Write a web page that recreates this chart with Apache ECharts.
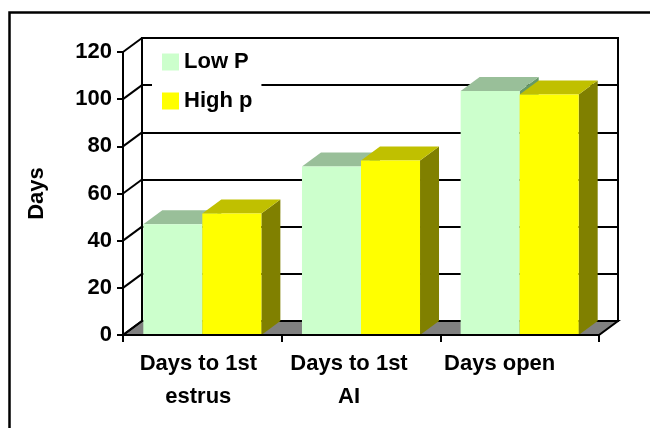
<!DOCTYPE html>
<html>
<head>
<meta charset="utf-8">
<script src="https://cdn.jsdelivr.net/npm/echarts@6/dist/echarts.min.js"></script>
<style>
  html, body { margin: 0; padding: 0; background: #fff; }
  #chart { width: 650px; height: 428px; }
</style>
</head>
<body>
<div id="chart"></div>
<script>
const categories = ['Days to 1st\nestrus', 'Days to 1st\nAI', 'Days open'];
const lowP = [47, 71.5, 103.5];
const highP = [51.5, 74, 102];
const yTicks = [0, 20, 40, 60, 80, 100, 120];

const W = 650, H = 428;
const FONT = "'Liberation Sans', Arial, sans-serif";
// front plane and back wall of the fake 3d box
const FRONT = { left: 123, right: 51, top: 52, bottom: 93 };
const BACK = { left: 142, right: 32, top: 38, bottom: 107 };
const DX = BACK.left - FRONT.left;
const DY = BACK.top - FRONT.top;
const BAR_FRAC = 0.372;

const lowColors = { front: '#ccffcc', top: '#99bf99', side: '#669966' };
const highColors = { front: '#ffff00', top: '#c0c000', side: '#808000' };

function renderBar(idx, c) {
  return function (params, api) {
    const cat = api.value(0);
    const base = api.coord([cat, 0]);
    const top = api.coord([cat, api.value(1)]);
    const band = api.size([1, 0])[0];
    const w = band * BAR_FRAC;
    const x0 = base[0] - w + idx * w;
    const x1 = x0 + w;
    const y0 = base[1];
    const y1 = top[1];
    return {
      type: 'group',
      children: [
        {
          type: 'polygon',
          shape: { points: [[x1, y0], [x1 + DX, y0 + DY], [x1 + DX, y1 + DY], [x1, y1]] },
          style: { fill: c.side }
        },
        {
          type: 'polygon',
          shape: { points: [[x0, y1], [x1, y1], [x1 + DX, y1 + DY], [x0 + DX, y1 + DY]] },
          style: { fill: c.top }
        },
        {
          type: 'rect',
          shape: { x: x0, y: y1, width: w, height: y0 - y1 },
          style: { fill: c.front }
        }
      ]
    };
  };
}

const chart = echarts.init(document.getElementById('chart'));
const labelStyle = { color: '#000', fontFamily: FONT, fontWeight: 'bold', fontSize: 22 };

chart.setOption({
  backgroundColor: '#fff',
  animation: false,
  legend: {
    orient: 'vertical',
    left: 152,
    top: 45,
    padding: [6, 9, 6, 10],
    backgroundColor: '#fff',
    itemWidth: 17,
    itemHeight: 17,
    itemGap: 17,
    icon: 'rect',
    textStyle: Object.assign({ lineHeight: 22 }, labelStyle),
    data: ['Low P', 'High p']
  },
  grid: [
    Object.assign({ show: false }, FRONT),
    Object.assign({ show: true, borderColor: '#000', borderWidth: 2, backgroundColor: '#fff' }, BACK),
    { left: 123, right: 75, top: FRONT.top, bottom: FRONT.bottom }
  ],
  xAxis: [
    {
      gridIndex: 0,
      type: 'category',
      data: categories,
      z: 3,
      axisLine: { lineStyle: { color: '#000', width: 2 } },
      axisTick: { show: true, length: 7, interval: 0, lineStyle: { color: '#000', width: 2 } },
      axisLabel: { show: false }
    },
    { gridIndex: 1, type: 'value', min: 0, max: 1, show: false },
    {
      gridIndex: 2,
      type: 'category',
      data: categories,
      axisLine: { show: false },
      axisTick: { show: false },
      axisLabel: Object.assign({ interval: 0, margin: 12, lineHeight: 33 }, labelStyle)
    }
  ],
  yAxis: [
    {
      gridIndex: 0,
      type: 'value',
      min: 0,
      max: 120,
      interval: 20,
      name: 'Days',
      nameLocation: 'middle',
      nameRotate: 90,
      nameGap: 75,
      nameTextStyle: labelStyle,
      axisLine: { show: true, lineStyle: { color: '#000', width: 2 } },
      axisTick: { show: true, length: 6, lineStyle: { color: '#000', width: 2 } },
      axisLabel: Object.assign({ margin: 11 }, labelStyle),
      splitLine: { show: false }
    },
    {
      gridIndex: 1,
      type: 'value',
      min: 0,
      max: 120,
      interval: 20,
      axisLine: { show: false },
      axisTick: { show: false },
      axisLabel: { show: false },
      splitLine: { show: true, lineStyle: { color: '#000', width: 2 } }
    },
    { gridIndex: 2, type: 'value', min: 0, max: 120, show: false }
  ],
  series: [
    {
      name: 'Low P',
      type: 'custom',
      xAxisIndex: 0,
      yAxisIndex: 0,
      itemStyle: { color: lowColors.front },
      encode: { x: 0, y: 1 },
      renderItem: renderBar(0, lowColors),
      data: lowP.map((v, i) => [i, v])
    },
    {
      name: 'High p',
      type: 'custom',
      xAxisIndex: 0,
      yAxisIndex: 0,
      itemStyle: { color: highColors.front },
      encode: { x: 0, y: 1 },
      renderItem: renderBar(1, highColors),
      data: highP.map((v, i) => [i, v])
    }
  ]
});

// floor, side wall gridlines and outer frame
const fx0 = FRONT.left, fx1 = W - FRONT.right, fy = H - FRONT.bottom;
const elements = [
  {
    type: 'rect',
    z: 0,
    shape: { x: 9.5, y: 12.5, width: 800, height: 600 },
    style: { fill: 'none', stroke: '#000', lineWidth: 2.5 }
  },
  {
    type: 'polygon',
    z: 1,
    shape: { points: [[fx0, fy], [fx1, fy], [fx1 + DX, fy + DY], [fx0 + DX, fy + DY]] },
    style: { fill: '#808080', stroke: '#000', lineWidth: 2 }
  }
];
yTicks.forEach((t) => {
  const y = chart.convertToPixel({ yAxisIndex: 0 }, t);
  elements.push({
    type: 'line',
    z: 1,
    shape: { x1: fx0, y1: y, x2: fx0 + DX, y2: y + DY },
    style: { stroke: '#000', lineWidth: 2 }
  });
});
chart.setOption({ graphic: { elements: elements } });
</script>
</body>
</html>
